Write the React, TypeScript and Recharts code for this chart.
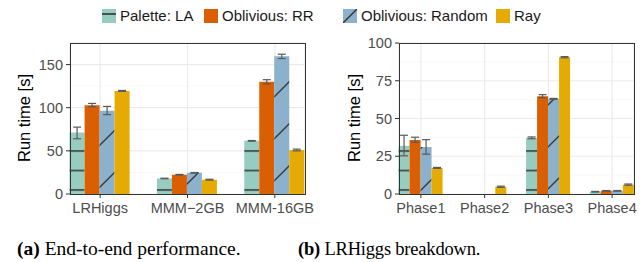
import React from 'react';
import { Bar, BarChart, CartesianGrid, ErrorBar, XAxis, YAxis } from 'recharts';

// series
const seriesKeys = ['la', 'rr', 'random', 'ray'];
const seriesNames = ['Palette: LA', 'Oblivious: RR', 'Oblivious: Random', 'Ray'];

// (a) end-to-end performance
const workloads = ['LRHiggs', 'MMM\u22122GB', 'MMM-16GB'];
const e2eLA = [71, 18, 61.6];
const e2eRR = [103, 22.3, 130];
const e2eRandom = [96.5, 24.5, 159.5];
const e2eRay = [119.5, 16.6, 51];
const e2eLAErr = [[7, 6.5], [0.3, 0.3], [0.4, 0.4]];
const e2eRRErr = [[2, 2], [0.4, 0.4], [2.5, 2.5]];
const e2eRandomErr = [[4.5, 5], [0.4, 0.4], [2.5, 2.5]];
const e2eRayErr = [[0.5, 0.5], [0.5, 0.5], [1, 1]];
const e2eTicks = [0, 50, 100, 150];
const e2eMinor = [25, 75, 125];

// (b) LRHiggs breakdown
const phases = ['Phase1', 'Phase2', 'Phase3', 'Phase4'];
const phaseLA = [31.9, 0, 37.2, 1.5];
const phaseRR = [35.8, 0, 64.8, 2.1];
const phaseRandom = [31.2, 0, 63, 2.1];
const phaseRay = [17.3, 4.8, 90.6, 6.2];
const phaseLAErr = [[6.6, 7], [0, 0], [0.6, 0.6], [0.2, 0.2]];
const phaseRRErr = [[1.6, 1.8], [0, 0], [1, 1], [0.2, 0.2]];
const phaseRandomErr = [[4.8, 4.8], [0, 0], [0.3, 0.3], [0.2, 0.2]];
const phaseRayErr = [[0.3, 0.3], [0.4, 0.4], [0.4, 0.4], [0.4, 0.4]];
const phaseTicks = [0, 25, 50, 75, 100];
const phaseMinor = [12.5, 37.5, 62.5, 87.5];

const colors: Record<string, string> = {
  la: '#97cdc1',
  rr: '#d95f02',
  random: '#8bb1cc',
  ray: '#e6ab02',
};

const buildRows = (names: string[], vals: number[][], errs: number[][][]) =>
  names.map((name, i) => {
    const row: any = { name };
    seriesKeys.forEach((k, s) => {
      row[k] = vals[s][i];
      row[k + 'Err'] = errs[s][i];
    });
    return row;
  });

const e2eData = buildRows(
  workloads,
  [e2eLA, e2eRR, e2eRandom, e2eRay],
  [e2eLAErr, e2eRRErr, e2eRandomErr, e2eRayErr]
);
const phaseData = buildRows(
  phases,
  [phaseLA, phaseRR, phaseRandom, phaseRay],
  [phaseLAErr, phaseRRErr, phaseRandomErr, phaseRayErr]
);

const font = '"Liberation Sans", Arial, sans-serif';
const tickStyle = { fontSize: 14.5, fill: '#4d4d4d', fontFamily: font };

interface PanelProps {
  id: string;
  data: any[];
  width: number;
  yWidth: number;
  right: number;
  domain: [number, number];
  ticks: number[];
  minor: number[];
  pad: number;
  patX: number;
}

const Panel = ({ id, data, width, yWidth, right, domain, ticks, minor, pad, patX }: PanelProps) => {
  const fills: Record<string, string> = {
    la: `url(#${id}-h)`,
    rr: colors.rr,
    random: `url(#${id}-d)`,
    ray: colors.ray,
  };
  return (
    <BarChart
      width={width}
      height={230}
      data={data}
      margin={{ top: 43, right, bottom: 6, left: 0 }}
      barCategoryGap="15%"
      barGap={0}
    >
      <defs>
        <pattern id={`${id}-h`} patternUnits="userSpaceOnUse" x={0} y={0} width={10} height={19.5}>
          <rect width={10} height={19.5} fill={colors.la} />
          <line x1={0} x2={10} y1={14.5} y2={14.5} stroke="#333" strokeWidth={1.5} />
        </pattern>
        <pattern id={`${id}-d`} patternUnits="userSpaceOnUse" x={patX} y={0} width={42} height={42}>
          <rect width={42} height={42} fill={colors.random} />
          <path d="M-4,4 L4,-4 M0,42 L42,0 M38,46 L46,38" stroke="#333" strokeWidth={1.3} />
        </pattern>
      </defs>
      <CartesianGrid stroke="#ebebeb" strokeWidth={1.2} />
      <CartesianGrid stroke="#f3f3f3" strokeWidth={0.6} vertical={false} horizontalValues={minor} />
      <XAxis
        dataKey="name"
        axisLine={false}
        tickLine={{ stroke: '#333' }}
        tickSize={4}
        tickMargin={5}
        tick={tickStyle}
        height={30}
        padding={{ left: pad, right: pad }}
        interval={0}
      />
      <YAxis
        domain={domain}
        ticks={ticks}
        axisLine={false}
        tickLine={{ stroke: '#333' }}
        tickSize={4}
        tickMargin={3}
        tick={tickStyle}
        width={yWidth}
        allowDataOverflow
      />
      {seriesKeys.map((k) => (
        <Bar key={k} dataKey={k} fill={fills[k]} isAnimationActive={false}>
          <ErrorBar dataKey={k + 'Err'} width={4} stroke="#5a5a5a" strokeWidth={1.2} direction="y" />
        </Bar>
      ))}
    </BarChart>
  );
};

const Swatch = ({ k }: { k: string }) => (
  <svg width={14} height={14} style={{ display: 'block' }}>
    <rect width={14} height={14} fill={colors[k]} />
    {k === 'la' && <line x1={0} x2={14} y1={5} y2={5} stroke="#333" strokeWidth={1.6} />}
    {k === 'random' && <line x1={0} y1={14} x2={14} y2={0} stroke="#333" strokeWidth={1.4} />}
  </svg>
);

const legendX = [102, 204, 343, 496];

const captionStyle: React.CSSProperties = {
  position: 'absolute',
  top: 239,
  fontFamily: '"Liberation Serif", serif',
  fontSize: 19.5,
  lineHeight: '20px',
  whiteSpace: 'nowrap',
  color: '#000',
};

export default function App() {
  return (
    <div
      style={{
        position: 'absolute',
        left: 0,
        top: 0,
        width: 644,
        height: 262,
        background: '#fff',
        fontFamily: font,
        overflow: 'hidden',
      }}
    >
      {seriesKeys.map((k, i) => (
        <div
          key={k}
          style={{ position: 'absolute', left: legendX[i], top: 9, display: 'flex', alignItems: 'center', height: 14 }}
        >
          <Swatch k={k} />
          <span style={{ marginLeft: 4, fontSize: 15, color: '#1a1a1a', whiteSpace: 'nowrap', lineHeight: '14px' }}>
            {seriesNames[i]}
          </span>
        </div>
      ))}

      <div style={{ position: 'absolute', left: 0, top: 0 }}>
        <Panel
          id="pa"
          data={e2eData}
          width={320}
          yWidth={70}
          right={15}
          domain={[0, 175]}
          ticks={e2eTicks}
          minor={e2eMinor}
          pad={-13.5}
          patX={-7}
        />
      </div>
      <div style={{ position: 'absolute', left: 320, top: 0 }}>
        <Panel
          id="pb"
          data={phaseData}
          width={324}
          yWidth={79}
          right={10}
          domain={[0, 100]}
          ticks={phaseTicks}
          minor={phaseMinor}
          pad={-10}
          patX={-3}
        />
      </div>

      {/* panel borders */}
      <div style={{ position: 'absolute', left: 70, top: 43, width: 236, height: 152, border: '1px solid #333', boxSizing: 'border-box', pointerEvents: 'none' }} />
      <div style={{ position: 'absolute', left: 399, top: 43, width: 236, height: 152, border: '1px solid #333', boxSizing: 'border-box', pointerEvents: 'none' }} />

      {/* axis titles */}
      {[24, 354].map((x) => (
        <div
          key={x}
          style={{
            position: 'absolute',
            left: x,
            top: 118,
            transform: 'translate(-50%, -50%) rotate(-90deg)',
            whiteSpace: 'nowrap',
            fontSize: 16.5,
            color: '#000',
            lineHeight: 1,
          }}
        >
          Run time [s]
        </div>
      ))}

      {/* captions */}
      <div style={{ ...captionStyle, left: 17 }}>
        <b>(a)</b> End-to-end performance.
      </div>
      <div style={{ ...captionStyle, left: 298, fontSize: 18.5, letterSpacing: -0.2 }}>
        <b>(b)</b> LRHiggs breakdown.
      </div>
    </div>
  );
}
